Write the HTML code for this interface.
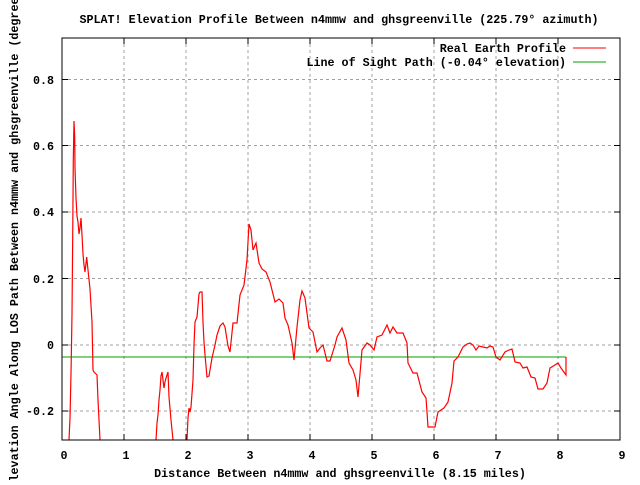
<!DOCTYPE html>
<html><head><meta charset="utf-8"><style>
html,body{margin:0;padding:0;background:#fff;}
svg text{font-family:"Liberation Mono","DejaVu Sans Mono",monospace;font-weight:bold;font-size:11.7px;fill:#000;}
</style></head><body>
<svg width="640" height="480" viewBox="0 0 640 480" xmlns="http://www.w3.org/2000/svg">
<rect width="640" height="480" fill="#fff"/>
<g stroke="#a0a0a0" stroke-width="1" stroke-dasharray="3,3" fill="none">
<line x1="124" y1="38" x2="124" y2="440"/><line x1="186" y1="38" x2="186" y2="440"/>
<line x1="248" y1="38" x2="248" y2="440"/><line x1="310" y1="38" x2="310" y2="440"/>
<line x1="372" y1="38" x2="372" y2="440"/><line x1="434" y1="38" x2="434" y2="440"/>
<line x1="496" y1="38" x2="496" y2="440"/><line x1="558" y1="38" x2="558" y2="440"/>
<line x1="62" y1="79.5" x2="620" y2="79.5"/><line x1="62" y1="145.5" x2="620" y2="145.5"/>
<line x1="62" y1="212" x2="620" y2="212"/><line x1="62" y1="278.5" x2="620" y2="278.5"/>
<line x1="62" y1="345" x2="620" y2="345"/><line x1="62" y1="411" x2="620" y2="411"/>
</g>
<g stroke="#000" stroke-width="1">
<line x1="62" y1="79.5" x2="68" y2="79.5"/><line x1="62" y1="145.5" x2="68" y2="145.5"/><line x1="62" y1="212" x2="68" y2="212"/><line x1="62" y1="278.5" x2="68" y2="278.5"/><line x1="62" y1="345" x2="68" y2="345"/><line x1="62" y1="411" x2="68" y2="411"/>
<line x1="614" y1="79.5" x2="620" y2="79.5"/><line x1="614" y1="145.5" x2="620" y2="145.5"/><line x1="614" y1="212" x2="620" y2="212"/><line x1="614" y1="278.5" x2="620" y2="278.5"/><line x1="614" y1="345" x2="620" y2="345"/><line x1="614" y1="411" x2="620" y2="411"/>
<line x1="124" y1="434" x2="124" y2="440"/><line x1="186" y1="434" x2="186" y2="440"/><line x1="248" y1="434" x2="248" y2="440"/><line x1="310" y1="434" x2="310" y2="440"/><line x1="372" y1="434" x2="372" y2="440"/><line x1="434" y1="434" x2="434" y2="440"/><line x1="496" y1="434" x2="496" y2="440"/><line x1="558" y1="434" x2="558" y2="440"/>
<line x1="124" y1="38" x2="124" y2="44"/><line x1="186" y1="38" x2="186" y2="44"/><line x1="248" y1="38" x2="248" y2="44"/><line x1="310" y1="38" x2="310" y2="44"/><line x1="372" y1="38" x2="372" y2="44"/><line x1="434" y1="38" x2="434" y2="44"/><line x1="496" y1="38" x2="496" y2="44"/><line x1="558" y1="38" x2="558" y2="44"/>
</g>
<line x1="62" y1="357" x2="566" y2="357" stroke="#00a000" stroke-width="1"/>
<g stroke="#ff0000" stroke-width="1.2" fill="none" stroke-linejoin="miter">
<polyline points="69,440 70,418 71,374 72,314 72.7,237 73.3,160 74,121 74.7,137 75,168 76,198 77,216 78,222 79,234 80,228 81,218 82,235 83,254 84,265 85,272 86.7,257 88,270 90,289 92,322 93,370 94,372 97,375 98,400 99,420 100,440"/>
<polyline points="156,440 157,423 158,415 159,400 160,390 161,376 162,372 163,380 164,388 165,382 166,378 168,372 169,397 171,420 173,440"/>
<polyline points="187,440 188,418 189,408 190,412 191,407 193,380 194,345 195,322 197,317 199,294 200,292 202,292 203,322 204,342 205,355 207,377 209,376 212,358 215,345 217,335 220,326 223,323 225,327 228,346 230,352 233,323 237,323 240,295 244,285 247,260 249,224 251,230 253,250 256,243 259,263 262,269 266,272 270,282 275,302 279,299 283,303 285,318 288,325 292,343 294,360 297,327 300,300 302,291 305,298 309,328 313,332 317,352 320,348 323,345 327,361 330,361 335,345 337,337 342,328 346,340 349,363 353,370 356,380 358,397 361,362 362,350 367,343 370,345 374,350 377,337 382,335 387,325 390,333 393,327 397,333 403,333 407,343 408,363 413,373 417,373 422,392 426,398 427,412 428,427 435,427 438,412 444,408 448,402 452,383 454,361 458,357 463,347 467,344 470,343 473,345 476,350 479,346 483,347 487,348 490,346 493,347 496,357 500,360 505,352 509,350 512,349 515,362 520,363 523,368 527,367 531,377 535,378 538,389 543,389 547,383 550,368 555,365 558,363 561,368 566,375 566,357"/>
</g>
<rect x="62" y="38" width="558" height="402" fill="none" stroke="#000" stroke-width="1"/>
<line x1="573" y1="48" x2="606" y2="48" stroke="#ff0000" stroke-width="1"/>
<line x1="573" y1="62" x2="606" y2="62" stroke="#00a000" stroke-width="1"/>
<text x="566" y="52" text-anchor="end">Real Earth Profile</text>
<text x="566" y="66" text-anchor="end">Line of Sight Path (-0.04° elevation)</text>
<text x="339" y="23" text-anchor="middle">SPLAT! Elevation Profile Between n4mmw and ghsgreenville (225.79° azimuth)</text>
<text x="340" y="477" text-anchor="middle">Distance Between n4mmw and ghsgreenville (8.15 miles)</text>
<g text-anchor="middle">
<text x="64" y="459">0</text><text x="126" y="459">1</text><text x="188" y="459">2</text><text x="250" y="459">3</text><text x="312" y="459">4</text><text x="374" y="459">5</text><text x="436" y="459">6</text><text x="498" y="459">7</text><text x="560" y="459">8</text><text x="622" y="459">9</text>
</g>
<g text-anchor="end">
<text x="54" y="84">0.8</text><text x="54" y="150">0.6</text><text x="54" y="216">0.4</text><text x="54" y="283">0.2</text><text x="54" y="349">0</text><text x="54" y="415">-0.2</text>
</g>
<text transform="translate(18,236) rotate(-90)" text-anchor="middle">Elevation Angle Along LOS Path Between n4mmw and ghsgreenville (degrees)</text>
</svg>
</body></html>
